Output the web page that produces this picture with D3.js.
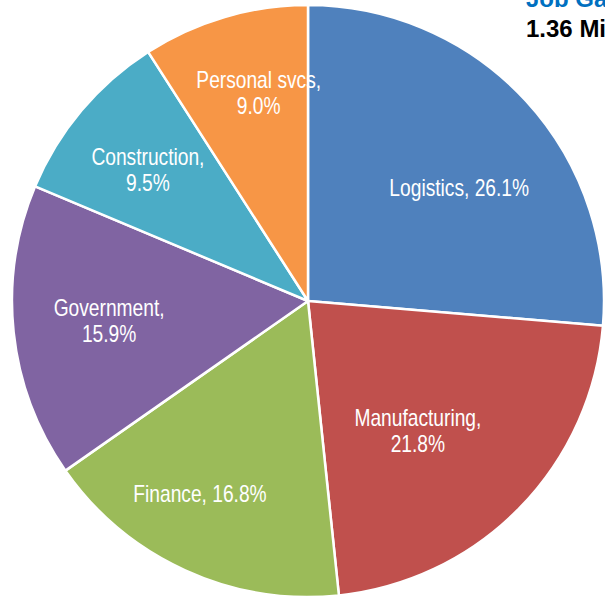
<!DOCTYPE html>
<meta charset="utf-8">
<style>
    body { margin: 0; background: #fff; }
    svg { display: block; }
    .label {
        font-family: "Liberation Sans", Arial, sans-serif;
        font-size: 24px;
        fill: #fff;
    }
    .title {
        font-family: "Liberation Sans", Arial, sans-serif;
        font-weight: bold;
        font-size: 24px;
    }
</style>

<svg width="605" height="600"></svg>

<script src="https://cdn.jsdelivr.net/npm/d3@7"></script>
<script>

    // DATA
    var sectors = ["Logistics", "Manufacturing", "Finance", "Government", "Construction", "Personal svcs"],
        shares = [26.1, 21.8, 16.8, 15.9, 9.5, 9.0],
        colours = ["#4f81bd", "#c0504d", "#9bbb59", "#8064a2", "#4bacc6", "#f79646"],
        twoLine = [false, true, false, true, true, true];

    var theData = sectors.map(function (s, i) {
        return { name: s, value: shares[i], colour: colours[i], split: twoLine[i] };
    });

    // label nudges, Excel "best fit" places them a bit off the centroid
    var nudge = {
        "Logistics": [4, 22],
        "Manufacturing": [-33, -10],
        "Finance": [-25, 11],
        "Government": [0, -1],
        "Construction": [-7, -2],
        "Personal svcs": [7, -16]
    };

    // SETUP
    var svg = d3.select("svg"),
        cx = 308, cy = 301, radius = 296;

    var g = svg.append("g")
        .attr("transform", "translate(" + cx + "," + cy + ")");

    var pie = d3.pie()
        .sort(null)
        .value(function (d) { return d.value; });

    var arc = d3.arc().innerRadius(0).outerRadius(radius);
    var labelArc = d3.arc().innerRadius(200).outerRadius(200);

    var arcs = pie(theData);

    g.selectAll(".slice")
        .data(arcs)
        .enter().append("path")
        .attr("class", "slice")
        .attr("d", arc)
        .attr("fill", function (d) { return d.data.colour; })
        .attr("stroke", "#fff")
        .attr("stroke-width", 2.5)
        .attr("stroke-linejoin", "round");

    // narrow look: squeeze the sans horizontally
    var labels = g.selectAll(".label")
        .data(arcs)
        .enter().append("text")
        .attr("class", "label")
        .attr("text-anchor", "middle")
        .attr("transform", function (d) {
            var c = labelArc.centroid(d), n = nudge[d.data.name];
            return "translate(" + (c[0] + n[0]) + "," + (c[1] + n[1]) + ") scale(0.8,1)";
        });

    labels.each(function (d) {
        var t = d3.select(this),
            pct = d.data.value.toFixed(1) + "%";
        if (d.data.split) {
            t.append("tspan").attr("x", 0).attr("y", -5).text(d.data.name + ",");
            t.append("tspan").attr("x", 0).attr("y", 21).text(pct);
        } else {
            t.append("tspan").attr("x", 0).attr("y", 8).text(d.data.name + ", " + pct);
        }
    });

    // TITLE (cut off by the frame)
    svg.append("text")
        .attr("class", "title")
        .attr("x", 526).attr("y", 7)
        .attr("fill", "#0070c0")
        .text("Job Gains");

    svg.append("text")
        .attr("class", "title")
        .attr("x", 526).attr("y", 37)
        .attr("fill", "#000")
        .text("1.36 Million");

</script>
